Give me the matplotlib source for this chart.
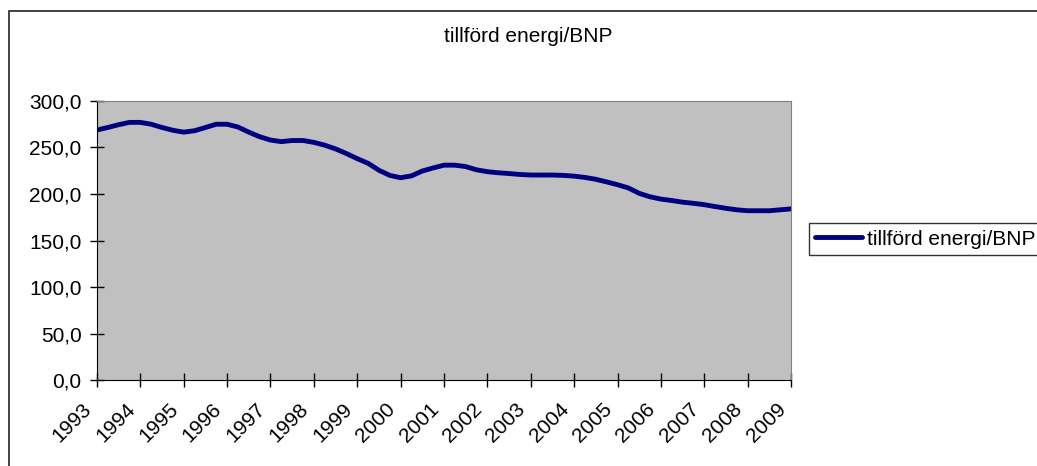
import matplotlib
matplotlib.use('Agg')
import matplotlib.pyplot as plt
import matplotlib.transforms as mtransforms
from matplotlib.patches import Rectangle

# quarterly values, 1993 Q1 .. 2009 Q1
energy_per_gdp = [
    268.8, 271.5, 274.5, 277.0, 277.0, 275.0, 271.5, 268.5,
    266.5, 268.0, 271.5, 275.0, 275.0, 272.0, 266.5, 261.6,
    258.0, 256.3, 257.5, 257.5, 255.5, 252.5, 248.5, 243.5,
    238.0, 233.0, 225.5, 220.0, 217.5, 219.5, 224.7, 228.0,
    231.0, 231.0, 229.5, 226.0, 224.0, 222.8, 222.0, 221.0,
    220.4, 220.4, 220.4, 220.0, 219.2, 217.8, 215.8, 213.0,
    210.0, 206.5, 200.7, 197.0, 194.5, 193.0, 191.2, 190.0,
    188.5, 186.5, 184.6, 183.0, 182.0, 182.0, 182.0, 183.0,
    184.0,
]
years = list(range(1993, 2010))
y_ticks = [0, 50, 100, 150, 200, 250, 300]
title = 'tillförd energi/BNP'

plt.rcParams['font.family'] = ['Liberation Sans', 'DejaVu Sans']

fig = plt.figure(figsize=(10.37, 4.66), dpi=100)
ax = fig.add_axes([0.0935, 0.1845, 0.6693, 0.5988])

ax.set_facecolor('#C0C0C0')
ax.plot(range(len(energy_per_gdp)), energy_per_gdp, color='#000080', lw=3.5,
        solid_capstyle='round', label=title)

ax.set_xlim(0, len(energy_per_gdp) - 1)
ax.set_ylim(0, 300)
ax.set_xticks([4 * i for i in range(len(years))])
ax.set_xticklabels([str(y) for y in years], rotation=45, ha='right',
                   va='center', rotation_mode='anchor')
ax.set_yticks(y_ticks)
ax.set_yticklabels([f'{v:.1f}'.replace('.', ',') for v in y_ticks])
ax.tick_params(axis='both', direction='inout', length=10, width=1,
               labelsize=15, color='black')
ax.tick_params(axis='y', pad=6)
ax.tick_params(axis='x', pad=14)

# nudge the slanted year labels a little to the left
shift = mtransforms.ScaledTranslation(-6 / 72, 0, fig.dpi_scale_trans)
for lbl in ax.get_xticklabels():
    lbl.set_transform(lbl.get_transform() + shift)

for s in ['top', 'right']:
    ax.spines[s].set_color('#808080')
for s in ['left', 'bottom']:
    ax.spines[s].set_color('black')

fig.text(528 / 1037, 1 - 37 / 466, title, ha='center', va='center', fontsize=15)

leg = ax.legend(loc='center left', bbox_to_anchor=(809 / 1037, 1 - 239 / 466),
                bbox_transform=fig.transFigure, fontsize=15, frameon=True,
                fancybox=False, edgecolor='black', handlelength=2.26,
                handletextpad=0.24, borderpad=0.3, borderaxespad=0)
leg.get_frame().set_linewidth(1)

# outer chart border, runs off the right and bottom edges
fig.patches.append(Rectangle((9 / 1037, -0.1), 1.2, 1 - 11 / 466 + 0.1,
                             transform=fig.transFigure, fill=False,
                             edgecolor='#222222', lw=1.2))

fig.savefig('out.png', dpi=100)
